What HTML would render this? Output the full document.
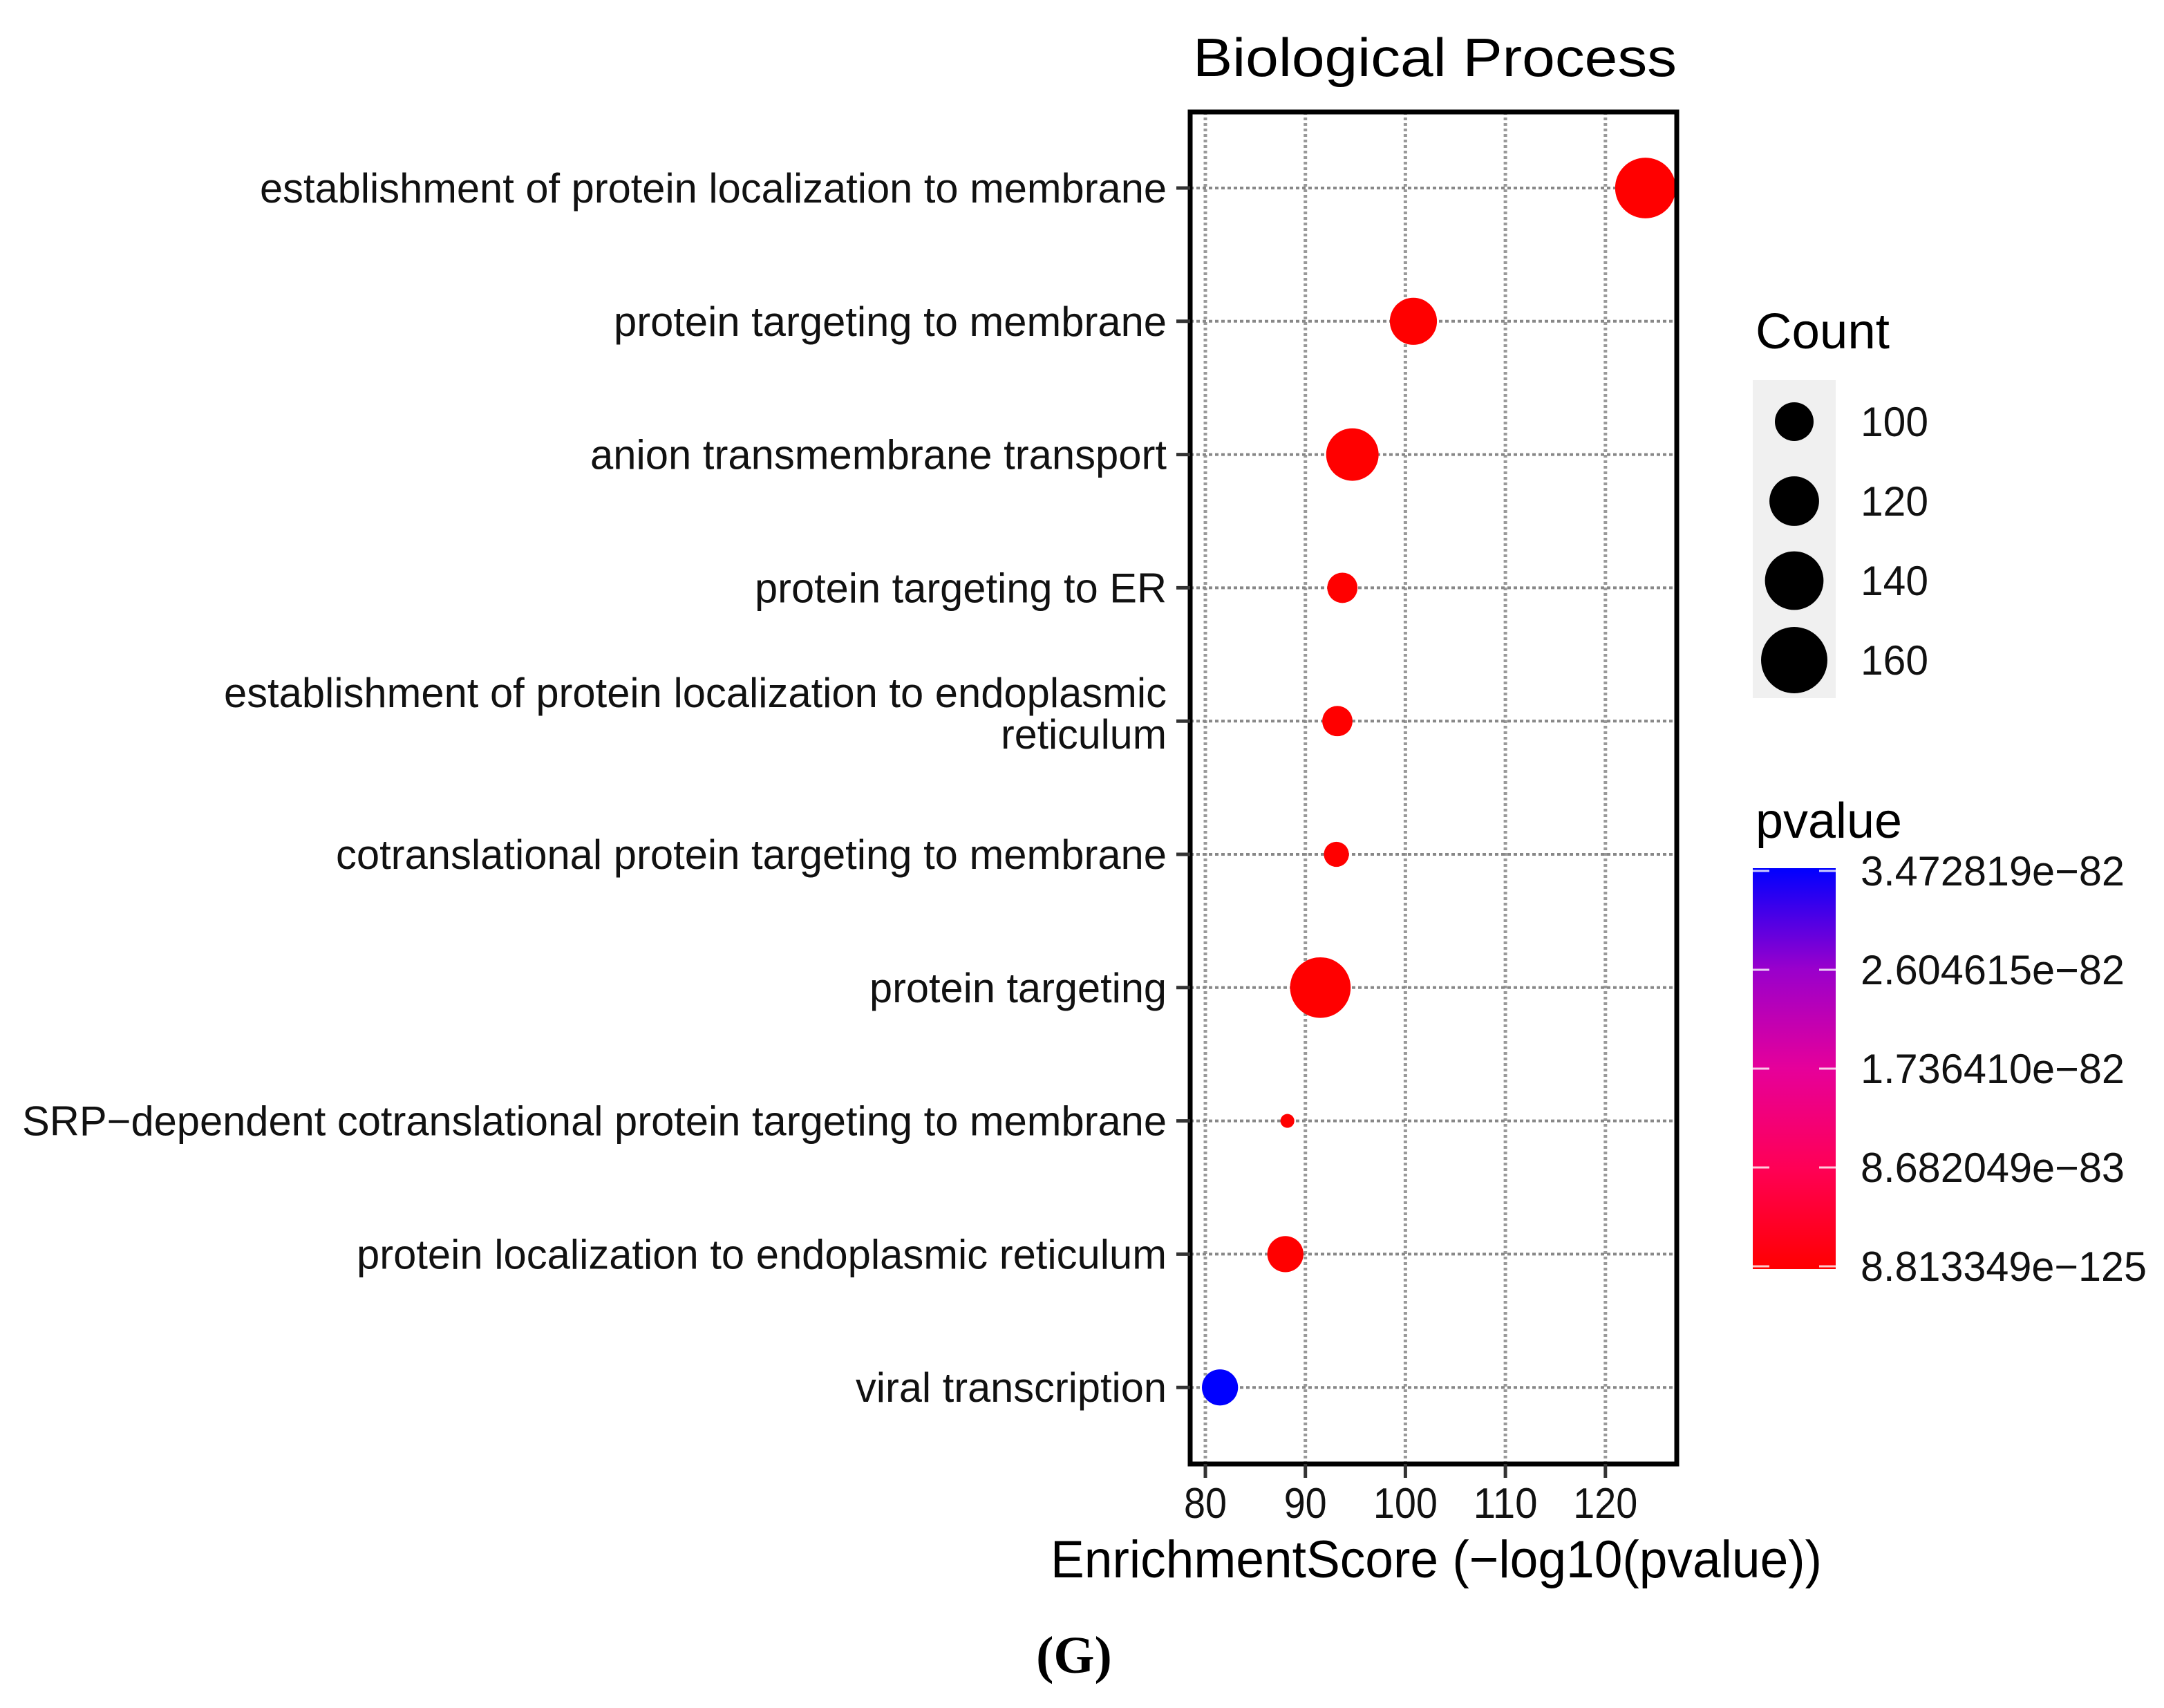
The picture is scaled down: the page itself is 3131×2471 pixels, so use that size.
<!DOCTYPE html>
<html><head><meta charset="utf-8"><style>
html,body{margin:0;padding:0;background:#fff;}
svg{display:block;font-family:"Liberation Sans",sans-serif;}
</style></head><body>
<svg id="chart" width="3131" height="2471" viewBox="0 0 3131 2471" xmlns="http://www.w3.org/2000/svg">
<rect width="3131" height="2471" fill="#fff"/>
<text x="1726" y="110" font-size="78" textLength="700" lengthAdjust="spacingAndGlyphs">Biological Process</text>
<g id="grid"></g>
<g id="marks"></g>
<rect x="1722" y="162" width="704" height="1956" fill="none" stroke="#000" stroke-width="7"/>
<g id="yaxis"></g>
<g id="xaxis"></g>
<text x="1520" y="2282" font-size="76" textLength="1116" lengthAdjust="spacingAndGlyphs">EnrichmentScore (−log10(pvalue))</text>
<g>
<text x="2540" y="504" font-size="72" textLength="194" lengthAdjust="spacingAndGlyphs">Count</text>
<rect x="2536" y="550" width="120" height="460" fill="#f0f0f0"/>
<g id="sizeleg"></g>
</g>
<g>
<text x="2540" y="1212" font-size="72" textLength="212" lengthAdjust="spacingAndGlyphs">pvalue</text>
<defs>
<linearGradient id="pg2" x1="0" y1="0" x2="0" y2="1"><stop offset="0" stop-color="#0000ff"/><stop offset="0.25" stop-color="#9900cc"/><stop offset="0.5" stop-color="#e6009a"/><stop offset="0.75" stop-color="#ff0055"/><stop offset="1" stop-color="#ff0000"/></linearGradient></defs>
<rect x="2536" y="1256" width="120" height="580" fill="url(#pg2)"/>
<g id="colorleg"></g>
</g>
<text x="1554" y="2420" font-size="76" font-weight="bold" text-anchor="middle" font-family="Liberation Serif, serif">(G)</text>
</svg>
<script>
const terms = ["establishment of protein localization to membrane","protein targeting to membrane","anion transmembrane transport","protein targeting to ER","establishment of protein localization to endoplasmic|reticulum","cotranslational protein targeting to membrane","protein targeting","SRP−dependent cotranslational protein targeting to membrane","protein localization to endoplasmic reticulum","viral transcription"];
const labelWidths = [1312,800,834,596,1364,1202,430,1656,1172,450];
const scores = [124.0,100.8,94.7,93.7,93.2,93.1,91.5,88.2,88.0,81.46];
const counts = [145,115,126,88,88,82,145,73,96,96];
const xTicks = [80,90,100,110,120];
const sizeBreaks = [100,120,140,160];
const pLabels = ["3.472819e−82","2.604615e−82","1.736410e−82","8.682049e−83","8.813349e−125"];

const NS="http://www.w3.org/2000/svg";
const X0=1722,X1=2426,Y0=162,Y1=2118;
const xs=v=>1744+(v-80)*14.47;
const ys=i=>272+i*192.8;
const rs=c=>Math.sqrt(Math.max(784+(c-100)*25.3,60));
const pmax=3.472819e-82;
function col(score){const p=Math.pow(10,-score);const t=Math.min(1,p/pmax);
 const r=Math.round(255*(1-t)), b=Math.round(255*t); return `rgb(${r},0,${b})`;}
function mk(tag,attrs,parent){const e=document.createElementNS(NS,tag);for(const k in attrs)e.setAttribute(k,attrs[k]);parent.appendChild(e);return e;}
const grid=document.getElementById('grid'),marks=document.getElementById('marks'),ya=document.getElementById('yaxis'),xa=document.getElementById('xaxis');
xTicks.forEach(t=>{
 const l=mk('line',{x1:xs(t),x2:xs(t),y1:Y0,y2:Y1,stroke:'#999','stroke-width':5,'stroke-dasharray':'4 4'},grid);
 
 
 const tk=mk('line',{x1:xs(t),x2:xs(t),y1:Y1,y2:Y1+20,stroke:'#333','stroke-width':5},xa);
 
 
 const tx=mk('text',{x:xs(t),y:2196,'font-size':62,'text-anchor':'middle',fill:'#111'},xa);
 
 
 tx.setAttribute('textLength',String(t).length*31);
 tx.setAttribute('lengthAdjust','spacingAndGlyphs');
 tx.textContent=t;
});
terms.forEach((term,i)=>{
 const y=ys(i);
 const g=mk('line',{x1:X0,x2:X1,y1:y,y2:y,stroke:'#888','stroke-width':4,'stroke-dasharray':'5 4'},grid);
 
 
 const tk=mk('line',{x1:X0-20,x2:X0,y1:y,y2:y,stroke:'#333','stroke-width':5},ya);
 
 
 const parts=term.split('|');
 parts.forEach((p,j)=>{
  const yy = parts.length>1 ? y-40+j*60+20 : y+21;
  const tx=mk('text',{x:1688,y:yy,'font-size':60,'text-anchor':'end',fill:'#111'},ya);
  
  
  tx.setAttribute('textLength', j===0?labelWidths[i]:240);
  tx.setAttribute('lengthAdjust','spacingAndGlyphs');
  tx.textContent=p;
 });
 const c=mk('circle',{cx:xs(scores[i]),cy:y,r:rs(counts[i]),fill:col(scores[i])},marks);
 
 
});
const sl=document.getElementById('sizeleg');
sizeBreaks.forEach((b,i)=>{
 const y=610+i*115;
 const c=mk('circle',{cx:2596,cy:y,r:rs(b),fill:'#000'},sl);
 
 
 const t=mk('text',{x:2692,y:y+21,'font-size':60,fill:'#111',textLength:98,lengthAdjust:'spacingAndGlyphs'},sl);
 
 
 t.textContent=b;
});
const cl=document.getElementById('colorleg');
pLabels.forEach((lab,i)=>{
 const y=1260+i*143;
 [2536,2632].forEach(x=>{const l=mk('line',{x1:x,x2:x+24,y1:y,y2:y,stroke:'#fff','stroke-width':3,opacity:0.8},cl);
  
  });
 const t=mk('text',{x:2692,y:y+21,'font-size':60,fill:'#111',textLength:i===4?414:382,lengthAdjust:'spacingAndGlyphs'},cl);
 
 
 t.textContent=lab;
});
</script>
</body></html>
